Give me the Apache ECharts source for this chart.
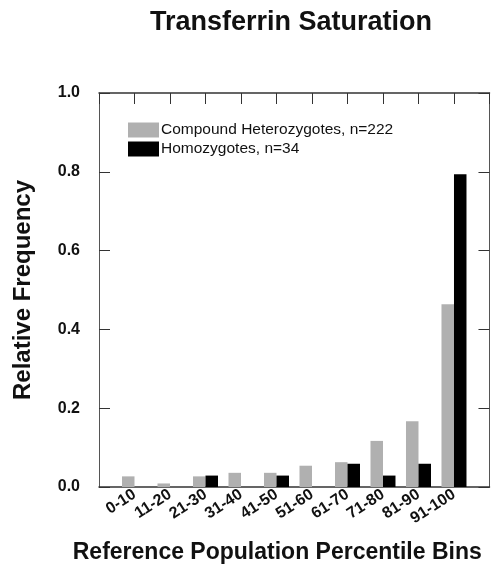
<!DOCTYPE html>
<html>
<head>
<meta charset="utf-8">
<script src="https://cdn.jsdelivr.net/npm/echarts@6/dist/echarts.min.js"></script>
<style>
  html, body { margin: 0; padding: 0; background: #fff; }
  #chart { width: 492px; height: 575px; }
</style>
</head>
<body>
<div id="chart"></div>
<script>
// percentile bins on the x axis
const bins = ['0-10', '11-20', '21-30', '31-40', '41-50', '51-60', '61-70', '71-80', '81-90', '91-100']
// relative frequency
const compoundHet = [0.027, 0.009, 0.027, 0.036, 0.036, 0.054, 0.063, 0.117, 0.167, 0.464]
const homozygotes = [0, 0, 0.029, 0, 0.029, 0, 0.059, 0.029, 0.059, 0.794]
const yTicks = [0, 0.2, 0.4, 0.6, 0.8, 1.0]

const FONT = '"Liberation Sans", Arial, sans-serif'

const chart = echarts.init(document.getElementById('chart'), null, { renderer: 'canvas' })

// bars sit on a value axis so the frame can be wider than the bins
const toPairs = arr => arr.map((v, i) => [i, v])

const innerTick = { show: true, inside: true, length: 11, lineStyle: { color: '#333', width: 1 } }

chart.setOption({
  animation: false,
  backgroundColor: '#fff',
  title: {
    text: 'Transferrin Saturation',
    left: 286,
    top: 4,
    textAlign: 'center',
    textStyle: { fontFamily: FONT, fontWeight: 'bold', fontSize: 27, color: '#111' }
  },
  legend: {
    orient: 'vertical',
    left: 123,
    top: 117,
    itemWidth: 31,
    itemHeight: 15,
    itemGap: 3,
    icon: 'rect',
    textStyle: { fontFamily: FONT, fontSize: 15.5, color: '#111', padding: [0, 0, 0, -3] },
    data: ['Compound Heterozygotes, n=222', 'Homozygotes, n=34']
  },
  grid: { left: 99, top: 93, right: 1, bottom: 88 },
  xAxis: [
    {
      type: 'value',
      position: 'bottom',
      min: -1,
      max: 10,
      interval: 1,
      splitLine: { show: false },
      axisLine: { onZero: false, lineStyle: { color: '#333', width: 1.5 } },
      axisTick: { show: false },
      axisLabel: {
        rotate: 33,
        margin: 6,
        fontFamily: FONT,
        fontWeight: 'bold',
        fontSize: 16,
        color: '#111',
        formatter: v => bins[v] || ''
      },
      name: 'Reference Population Percentile Bins',
      nameLocation: 'middle',
      nameGap: 54,
      nameTextStyle: {
        fontFamily: FONT, fontWeight: 'bold', fontSize: 23, color: '#111',
        padding: [0, 34, 0, 0]
      }
    },
    {
      type: 'value',
      position: 'top',
      min: -1,
      max: 10,
      interval: 1,
      splitLine: { show: false },
      axisLine: { show: true, onZero: false, lineStyle: { color: '#333', width: 1.5 } },
      axisTick: innerTick,
      axisLabel: { show: false }
    }
  ],
  yAxis: [
    {
      type: 'value',
      position: 'left',
      min: yTicks[0],
      max: yTicks[yTicks.length - 1],
      interval: 0.2,
      splitLine: { show: false },
      axisLine: { show: true, onZero: false, lineStyle: { color: '#555', width: 1 } },
      axisTick: innerTick,
      axisLabel: {
        margin: 19,
        fontFamily: FONT,
        fontWeight: 'bold',
        fontSize: 16,
        color: '#111',
        formatter: v => v.toFixed(1)
      },
      name: 'Relative Frequency',
      nameLocation: 'middle',
      nameGap: 64,
      nameTextStyle: { fontFamily: FONT, fontWeight: 'bold', fontSize: 24, color: '#111' }
    },
    {
      type: 'value',
      position: 'right',
      min: yTicks[0],
      max: yTicks[yTicks.length - 1],
      interval: 0.2,
      splitLine: { show: false },
      axisLine: { show: true, onZero: false, lineStyle: { color: '#555', width: 1 } },
      axisTick: innerTick,
      axisLabel: { show: false }
    }
  ],
  series: [
    {
      name: 'Compound Heterozygotes, n=222',
      type: 'bar',
      xAxisIndex: 0,
      yAxisIndex: 0,
      barWidth: 12.5,
      barGap: '0%',
      itemStyle: { color: '#b0b0b0' },
      data: toPairs(compoundHet)
    },
    {
      name: 'Homozygotes, n=34',
      type: 'bar',
      xAxisIndex: 0,
      yAxisIndex: 0,
      barWidth: 12.5,
      barGap: '0%',
      itemStyle: { color: '#000' },
      data: toPairs(homozygotes)
    }
  ]
})
</script>
</body>
</html>
